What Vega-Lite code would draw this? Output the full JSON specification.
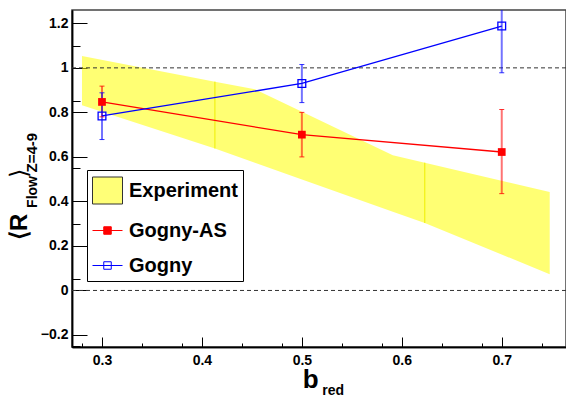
{
  "$schema": "https://vega.github.io/schema/vega-lite/v6.json",
  "width": 494,
  "height": 337,
  "autosize": {"type": "none"},
  "padding": {"left": 72, "top": 10, "right": 0, "bottom": 50},
  "background": "white",
  "config": {
    "view": {"stroke": "#444444", "strokeWidth": 1.5},
    "font": "Liberation Sans",
    "axis": {"labelFont": "Liberation Sans", "labelFontWeight": "bold", "labelFontSize": 14, "labelColor": "black", "tickColor": "black", "domainColor": "black", "domainWidth": 1.5, "tickWidth": 1, "grid": false, "zindex": 1, "title": null},
    "legend": {"labelFont": "Liberation Sans", "labelFontWeight": "bold", "labelFontSize": 20, "labelColor": "black"}
  },
  "datasets": {
    "band": [
      {"b": 0.28, "lo": 0.832, "hi": 1.053},
      {"b": 0.413, "lo": 0.638, "hi": 0.938},
      {"b": 0.453, "lo": 0.574, "hi": 0.904},
      {"b": 0.498, "lo": 0.502, "hi": 0.807},
      {"b": 0.591, "lo": 0.354, "hi": 0.607},
      {"b": 0.623, "lo": 0.303, "hi": 0.574},
      {"b": 0.748, "lo": 0.073, "hi": 0.442}
    ],
    "models": [
      {"s": "Gogny-AS", "b": 0.3, "v": 0.847, "lo": 0.78, "hi": 0.918},
      {"s": "Gogny-AS", "b": 0.5, "v": 0.70, "lo": 0.60, "hi": 0.80},
      {"s": "Gogny-AS", "b": 0.7, "v": 0.622, "lo": 0.435, "hi": 0.813},
      {"s": "Gogny", "b": 0.3, "v": 0.784, "lo": 0.678, "hi": 0.888},
      {"s": "Gogny", "b": 0.5, "v": 0.93, "lo": 0.844, "hi": 1.015},
      {"s": "Gogny", "b": 0.7, "v": 1.188, "lo": 0.978, "hi": 1.40}
    ],
    "keys": [{"s": "Experiment"}, {"s": "Gogny-AS"}, {"s": "Gogny"}],
    "refs": [{"r": 1}, {"r": 0}],
    "one": [{}]
  },
  "resolve": {"axis": {"x": "independent", "y": "independent"}},
  "layer": [
    {
      "layer": [
        {
          "data": {"name": "band"},
          "mark": {"type": "area", "opacity": 0.55, "interpolate": "linear", "color": "#ffff00"},
          "encoding": {
            "x": {"field": "b", "type": "quantitative", "scale": {"domain": [0.27, 0.7643], "nice": false, "zero": false},
                  "axis": {"orient": "bottom", "values": [0.28, 0.32, 0.34, 0.36, 0.38, 0.42, 0.44, 0.46, 0.48, 0.52, 0.54, 0.56, 0.58, 0.62, 0.64, 0.66, 0.68, 0.72, 0.74, 0.76], "labels": false, "tickSize": -4, "title": null}},
            "y": {"field": "hi", "type": "quantitative", "scale": {"domain": [-0.254, 1.26], "nice": false, "zero": false},
                  "axis": {"orient": "left", "values": [-0.25, -0.15, -0.1, -0.05, 0.05, 0.1, 0.15, 0.25, 0.3, 0.35, 0.45, 0.5, 0.55, 0.65, 0.7, 0.75, 0.85, 0.9, 0.95, 1.05, 1.1, 1.15, 1.25], "labels": false, "tickSize": -8, "title": null}},
            "y2": {"field": "lo"}
          }
        },
        {
          "data": {"name": "band"},
          "transform": [{"filter": "datum.b == 0.413 || datum.b == 0.623"}],
          "mark": {"type": "rule", "color": "#eeee00", "strokeWidth": 1},
          "encoding": {
            "x": {"field": "b", "type": "quantitative"},
            "y": {"field": "hi", "type": "quantitative"},
            "y2": {"field": "lo"}
          }
        },
        {
          "data": {"name": "refs"},
          "mark": {"type": "rule", "color": "#333333", "strokeDash": [4, 3], "strokeWidth": 1},
          "encoding": {"y": {"field": "r", "type": "quantitative"}}
        },
        {
          "data": {"name": "models"},
          "mark": {"type": "rule", "strokeWidth": 2, "opacity": 0.55, "clip": true},
          "encoding": {
            "x": {"field": "b", "type": "quantitative"},
            "y": {"field": "lo", "type": "quantitative"},
            "y2": {"field": "hi"},
            "color": {"field": "s", "type": "nominal", "scale": {"domain": ["Gogny-AS", "Gogny"], "range": ["#ff0000", "#0000ff"]}, "legend": null}
          }
        },
        {
          "data": {"name": "models"},
          "mark": {"type": "tick", "orient": "horizontal", "size": 5, "thickness": 1, "opacity": 0.8, "clip": true},
          "encoding": {
            "x": {"field": "b", "type": "quantitative"},
            "y": {"field": "lo", "type": "quantitative"},
            "color": {"field": "s", "type": "nominal", "legend": null}
          }
        },
        {
          "data": {"name": "models"},
          "mark": {"type": "tick", "orient": "horizontal", "size": 5, "thickness": 1, "opacity": 0.8, "clip": true},
          "encoding": {
            "x": {"field": "b", "type": "quantitative"},
            "y": {"field": "hi", "type": "quantitative"},
            "color": {"field": "s", "type": "nominal", "legend": null}
          }
        },
        {
          "data": {"name": "models"},
          "mark": {"type": "line", "strokeWidth": 1.3},
          "encoding": {
            "x": {"field": "b", "type": "quantitative"},
            "y": {"field": "v", "type": "quantitative"},
            "color": {"field": "s", "type": "nominal", "legend": null}
          }
        },
        {
          "data": {"name": "keys"},
          "transform": [{"filter": "false"}],
          "mark": {"type": "point", "filled": true, "opacity": 1, "strokeWidth": 1},
          "encoding": {
            "shape": {"field": "s", "type": "nominal",
                      "scale": {"domain": ["Experiment", "Gogny-AS", "Gogny"], "range": ["M-1,-0.9H1V0.9H-1Z", "M-1,0H1M-0.25,-0.25H0.25V0.25H-0.25Z", "M-1,0H1M-0.25,-0.25H0.25V0.25H-0.25Z"]},
                      "legend": {"title": null, "orient": "none", "legendX": 15, "legendY": 160, "fillColor": "white", "strokeColor": "black", "padding": 5, "rowPadding": 9, "labelOffset": 6, "symbolSize": 900, "symbolStrokeWidth": 1, "symbolOpacity": 1}},
            "fill": {"field": "s", "type": "nominal",
                     "scale": {"domain": ["Experiment", "Gogny-AS", "Gogny"], "range": ["#ffff77", "#ff0000", "transparent"]},
                     "legend": {"title": null, "orient": "none", "legendX": 15, "legendY": 160, "fillColor": "white", "strokeColor": "black", "padding": 5, "rowPadding": 9, "labelOffset": 6, "symbolSize": 900, "symbolStrokeWidth": 1, "symbolOpacity": 1}},
            "stroke": {"field": "s", "type": "nominal",
                       "scale": {"domain": ["Experiment", "Gogny-AS", "Gogny"], "range": ["#333333", "#ff0000", "#0000ff"]},
                       "legend": {"title": null, "orient": "none", "legendX": 15, "legendY": 160, "fillColor": "white", "strokeColor": "black", "padding": 5, "rowPadding": 9, "labelOffset": 6, "symbolSize": 900, "symbolStrokeWidth": 1, "symbolOpacity": 1}}
          }
        },
        {
          "data": {"name": "one"},
          "mark": {"type": "text", "text": "⟨R", "angle": 270, "align": "left", "baseline": "alphabetic", "fontSize": 24, "fontWeight": "bold", "font": "Liberation Sans", "color": "black"},
          "encoding": {"x": {"datum": 0.225}, "y": {"datum": 0.227}}
        },
        {
          "data": {"name": "one"},
          "mark": {"type": "text", "text": "Flow", "angle": 270, "align": "left", "baseline": "alphabetic", "fontSize": 14, "fontWeight": "bold", "font": "Liberation Sans", "color": "black"},
          "encoding": {"x": {"datum": 0.235}, "y": {"datum": 0.371}}
        },
        {
          "data": {"name": "one"},
          "mark": {"type": "text", "text": "⟩", "angle": 270, "align": "left", "baseline": "alphabetic", "fontSize": 24, "font": "DejaVu Sans", "color": "black"},
          "encoding": {"x": {"datum": 0.225}, "y": {"datum": 0.505}}
        },
        {
          "data": {"name": "one"},
          "mark": {"type": "text", "text": "Z=4-9", "angle": 270, "align": "left", "baseline": "alphabetic", "fontSize": 15, "fontWeight": "bold", "font": "Liberation Sans", "color": "black"},
          "encoding": {"x": {"datum": 0.235}, "y": {"datum": 0.53}}
        },
        {
          "data": {"name": "one"},
          "mark": {"type": "text", "text": "b", "align": "left", "baseline": "alphabetic", "fontSize": 26, "fontWeight": "bold", "font": "Liberation Sans", "color": "black"},
          "encoding": {"x": {"datum": 0.501}, "y": {"datum": -0.438}}
        },
        {
          "data": {"name": "one"},
          "mark": {"type": "text", "text": "red", "align": "left", "baseline": "alphabetic", "fontSize": 14, "fontWeight": "bold", "font": "Liberation Sans", "color": "black"},
          "encoding": {"x": {"datum": 0.5205}, "y": {"datum": -0.47}}
        }
      ]
    },
    {
      "data": {"name": "models"},
      "layer": [
        {
          "transform": [{"filter": "datum.s == 'Gogny-AS'"}],
          "mark": {"type": "point", "shape": "square", "filled": true, "size": 60, "opacity": 1, "color": "#ff0000"},
          "encoding": {
            "x": {"field": "b", "type": "quantitative", "scale": {"domain": [0.27, 0.7643], "nice": false, "zero": false},
                  "axis": {"orient": "bottom", "values": [0.3, 0.4, 0.5, 0.6, 0.7], "tickSize": -10, "labelPadding": 16, "format": ".1f", "title": null}},
            "y": {"field": "v", "type": "quantitative", "scale": {"domain": [-0.254, 1.26], "nice": false, "zero": false},
                  "axis": {"orient": "left", "values": [-0.2, 0, 0.2, 0.4, 0.6, 0.8, 1, 1.2], "tickSize": -15, "labelPadding": 19, "labelExpr": "datum.value == 0 ? '0' : datum.value == 1 ? '1' : format(datum.value, '.1f')", "title": null}}
          }
        },
        {
          "transform": [{"filter": "datum.s == 'Gogny'"}],
          "mark": {"type": "point", "shape": "square", "filled": false, "size": 60, "strokeWidth": 1.3, "opacity": 1, "color": "#0000ff"},
          "encoding": {
            "x": {"field": "b", "type": "quantitative"},
            "y": {"field": "v", "type": "quantitative"}
          }
        }
      ]
    }
  ]
}
